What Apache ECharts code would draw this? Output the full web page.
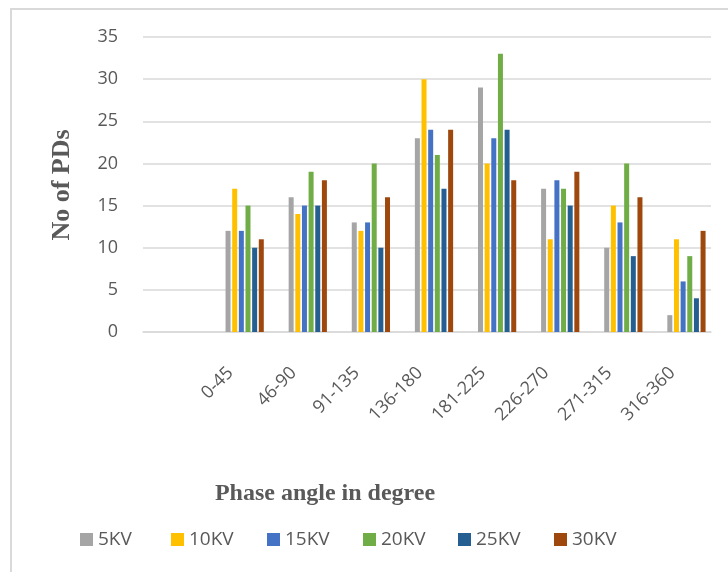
<!DOCTYPE html>
<html>
<head>
<meta charset="utf-8">
<title>No of PDs by phase angle</title>
<script src="https://cdn.jsdelivr.net/npm/echarts@6/dist/echarts.min.js"></script>
<style>
  html, body { margin: 0; padding: 0; background: #fff; }
  #main { width: 728px; height: 572px; }
</style>
</head>
<body>
<div id="main"></div>
<script>
// 相位区间 (第一个是空类别)
const categories = ['', '0-45', '46-90', '91-135', '136-180', '181-225', '226-270', '271-315', '316-360']
const seriesNames = ['5KV', '10KV', '15KV', '20KV', '25KV', '30KV']
const kv5 = [null, 12, 16, 13, 23, 29, 17, 10, 2]
const kv10 = [null, 17, 14, 12, 30, 20, 11, 15, 11]
const kv15 = [null, 12, 15, 13, 24, 23, 18, 13, 6]
const kv20 = [null, 15, 19, 20, 21, 33, 17, 20, 9]
const kv25 = [null, 10, 15, 10, 17, 24, 15, 9, 4]
const kv30 = [null, 11, 18, 16, 24, 18, 19, 16, 12]
const yMin = 0
const yMax = 35
const yStep = 5

const colors = ['#a5a5a5', '#ffc000', '#4472c4', '#70ad47', '#255e91', '#9e480e']
const textColor = '#595959'
const lineColor = '#d9d9d9'
const labelFont = '"Open Sans", "Noto Sans", sans-serif'
const titleFont = '"Liberation Serif", "DejaVu Serif", serif'
// 图例每一项的左边位置
const legendLefts = [75, 166, 262, 358, 453, 549]

const allData = [kv5, kv10, kv15, kv20, kv25, kv30]

const chart = echarts.init(document.getElementById('main'))

const option = {
  animation: false,
  color: colors,
  grid: [
    // 网格线 + 坐标轴
    { left: 143, right: 17, top: 37, bottom: 240 },
    // 柱子
    { left: 150, right: 10, top: 37, bottom: 240 }
  ],
  xAxis: [
    {
      gridIndex: 0,
      type: 'category',
      data: categories,
      axisLine: { lineStyle: { color: lineColor, width: 1.5 } },
      axisTick: { show: false },
      axisLabel: { show: false }
    },
    {
      gridIndex: 1,
      type: 'category',
      data: categories,
      axisLine: { show: false },
      axisTick: { show: false },
      axisLabel: {
        rotate: 45,
        margin: 24,
        interval: 0,
        padding: [0, 20, 0, 0],
        color: textColor,
        fontSize: 18,
        fontFamily: labelFont
      }
    }
  ],
  yAxis: [
    {
      gridIndex: 0,
      type: 'value',
      min: yMin,
      max: yMax,
      interval: yStep,
      axisLine: { show: false },
      axisTick: { show: false },
      splitLine: { lineStyle: { color: lineColor, width: 1.5 } },
      axisLabel: {
        margin: 25,
        color: textColor,
        fontSize: 18,
        fontFamily: labelFont
      }
    },
    {
      gridIndex: 1,
      type: 'value',
      min: yMin,
      max: yMax,
      interval: yStep,
      show: false
    }
  ],
  legend: seriesNames.map((name, i) => ({
    left: legendLefts[i],
    top: 525,
    itemWidth: 13,
    itemHeight: 13,
    icon: 'rect',
    textStyle: {
      color: textColor,
      fontSize: 19,
      fontFamily: labelFont
    },
    data: [name]
  })),
  graphic: [
    {
      type: 'rect',
      silent: true,
      shape: { x: 11, y: 9, width: 800, height: 700 },
      style: { fill: 'none', stroke: lineColor, lineWidth: 2 }
    },
    {
      type: 'text',
      x: 62,
      y: 185,
      rotation: Math.PI / 2,
      style: {
        text: 'No of PDs',
        fill: textColor,
        font: 'bold 26px ' + titleFont,
        align: 'center',
        verticalAlign: 'middle'
      }
    },
    {
      type: 'text',
      x: 325,
      y: 494,
      style: {
        text: 'Phase angle in degree',
        fill: textColor,
        font: 'bold 24px ' + titleFont,
        align: 'center',
        verticalAlign: 'middle'
      }
    }
  ],
  series: seriesNames.map((name, i) => ({
    name: name,
    type: 'bar',
    xAxisIndex: 1,
    yAxisIndex: 1,
    barWidth: 5,
    barGap: '33%',
    data: allData[i],
    itemStyle: { color: colors[i] }
  }))
}

chart.setOption(option)
</script>
</body>
</html>
